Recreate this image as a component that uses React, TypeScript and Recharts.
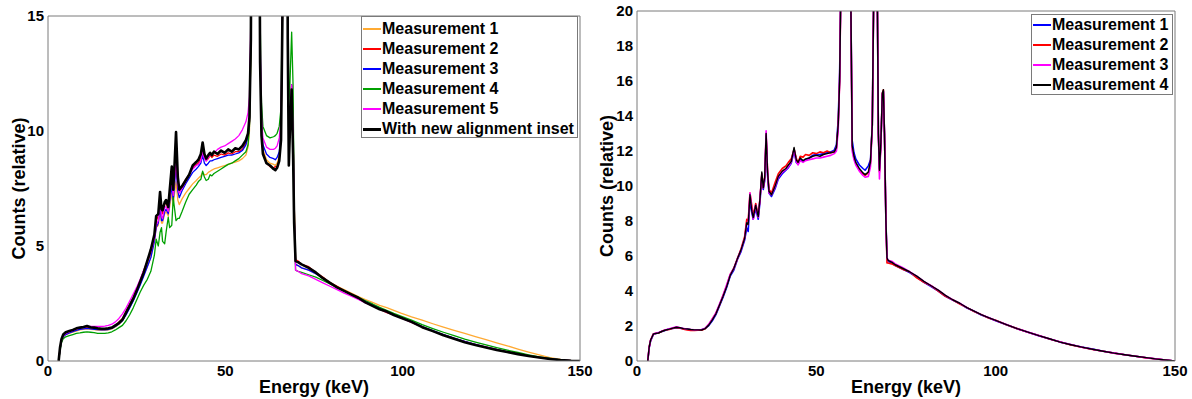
import { LineChart, Line, XAxis, YAxis, Label } from 'recharts'

const FONT = '"Liberation Sans", Arial, Helvetica, sans-serif'
const FRAME = '#7a7a7a'

const energyTicks = [0, 50, 100, 150]
const leftCountTicks = [0, 5, 10, 15]
const rightCountTicks = [0, 2, 4, 6, 8, 10, 12, 14, 16, 18, 20]

// ---- left panel: five measurements + the new alignment inset (keV) ----
const leftEnergy = [
  3, 3.4, 3.8, 4.3, 5, 6, 7, 8, 9, 10, 11, 12, 13, 14, 15, 16, 17, 18, 19,
  20, 21, 22, 23, 24, 25, 26, 27, 28, 29, 30,
  30.5, 31.1, 31.6, 32.0, 32.3, 32.9, 33.3, 33.9, 34.3, 34.9, 35.3, 35.7, 36.1, 36.6, 37.0,
  37.8, 38.8, 39.8, 40.8, 41.8, 42.4, 43.1, 43.6, 44.1, 44.6, 45.2, 45.7, 46.2, 46.8, 47.8, 48.8, 49.8, 50.8, 51.8, 52.8, 53.8, 54.8, 55.8, 56.4,
  56.8, 57.2, 57.6, 58.5, 59.3, 59.8, 60.2, 60.6, 61.6, 62.6, 63.6, 64.1, 64.6, 65.2, 65.7, 66.1, 66.6, 67.2, 67.6, 67.9, 68.2, 68.7, 69.1, 69.4, 69.8,
  70.5, 71.5, 73.5, 75.5, 77.5, 79.5, 81.5, 83.5, 85.5, 87.5, 89.5, 91.5, 93.5, 95.5, 97.5, 99.5, 102.5, 105.5, 108.5, 111.5, 114.5, 117.5, 120.5, 123.5, 126.5, 129.5, 132.5, 135.5, 138.5, 141.5, 144.5, 147.5, 150,
]

const leftMeas1 = [
  0, 0.5, 0.85, 1.05, 1.15, 1.2, 1.25, 1.3, 1.35, 1.38, 1.4, 1.38, 1.36, 1.34, 1.33, 1.33, 1.35, 1.4, 1.48,
  1.6, 1.75, 2.05, 2.35, 2.65, 3.0, 3.35, 3.75, 4.1, 4.5, 5.2,
  5.8, 5.9, 6.6, 6.0, 6.0, 6.4, 6.5, 6.3, 6.7, 7.3, 6.8, 7.3, 7.8, 7.0, 6.8,
  7.05, 7.3, 7.5, 7.7, 7.85, 7.95, 8.05, 8.2, 8.1, 8.1, 8.2, 8.25, 8.3, 8.35, 8.4, 8.45, 8.5, 8.55, 8.6, 8.65, 8.7, 8.8, 8.95, 9.3,
  10, 13.5, 30, 30, 30, 13.5, 10, 9.2, 8.75, 8.6, 8.55, 8.5, 8.6, 8.9, 9.8, 15, 30, 30, 15, 9.8, 10.5, 12, 10, 6.5, 4.2,
  4.15, 4.05, 3.95, 3.8, 3.6, 3.42, 3.25, 3.1, 2.95, 2.8, 2.67, 2.55, 2.42, 2.32, 2.2, 2.08, 1.92, 1.78, 1.62, 1.47, 1.33, 1.2, 1.06, 0.93, 0.79, 0.66, 0.52, 0.39, 0.27, 0.15, 0.07, 0.02, 0,
]

const leftMeas2 = [
  0, 0.55, 0.9, 1.1, 1.2, 1.28, 1.33, 1.38, 1.42, 1.45, 1.47, 1.44, 1.42, 1.4, 1.38, 1.38, 1.4, 1.45, 1.55,
  1.7, 1.85, 2.15, 2.45, 2.75, 3.1, 3.5, 3.95, 4.3, 4.7, 5.4,
  6.1, 6.3, 7.2, 6.5, 6.4, 6.8, 6.9, 6.6, 7.2, 8.2, 7.3, 8.4, 9.7, 7.8, 7.4,
  7.6, 7.9, 8.1, 8.4, 8.55, 8.6, 8.85, 9.3, 8.9, 8.7, 8.8, 8.95, 8.85, 8.95, 8.9, 9.0, 8.95, 9.05, 9.0, 9.1, 9.1, 9.2, 9.45, 9.8,
  10.4, 14, 30, 30, 30, 13.5, 10, 9.1, 8.6, 8.45, 8.4, 8.45, 8.45, 8.75, 9.7, 15, 30, 30, 15, 9.5, 10.5, 12, 10, 7, 4.4,
  4.35, 4.2, 4.1, 3.85, 3.65, 3.4, 3.25, 3.05, 2.9, 2.7, 2.55, 2.45, 2.25, 2.1, 2.0, 1.9, 1.68, 1.5, 1.3, 1.14, 0.98, 0.84, 0.71, 0.6, 0.5, 0.4, 0.31, 0.23, 0.16, 0.1, 0.05, 0.01, 0,
]

const leftMeas3 = [
  0, 0.5, 0.85, 1.05, 1.15, 1.22, 1.28, 1.33, 1.38, 1.4, 1.42, 1.4, 1.38, 1.36, 1.35, 1.35, 1.37, 1.42, 1.5,
  1.62, 1.75, 2.0, 2.3, 2.6, 2.95, 3.3, 3.7, 4.1, 4.5, 5.2,
  5.8, 6.0, 6.7, 6.1, 6.1, 6.5, 6.6, 6.4, 6.9, 7.6, 7.0, 7.7, 8.5, 7.4, 7.1,
  7.4, 7.7, 7.95, 8.2, 8.35, 8.45, 8.6, 8.95, 8.6, 8.5, 8.6, 8.7, 8.7, 8.75, 8.8, 8.85, 8.9, 8.95, 8.95, 9.0, 9.05, 9.15, 9.4, 9.8,
  10.4, 14, 30, 30, 30, 14, 10.4, 9.4, 9.0, 8.85, 8.8, 8.75, 8.85, 9.1, 10, 15, 30, 30, 15, 9.8, 10.5, 12, 10, 6.5, 4.2,
  4.15, 4.05, 3.95, 3.8, 3.6, 3.4, 3.2, 3.05, 2.9, 2.75, 2.6, 2.45, 2.3, 2.15, 2.0, 1.9, 1.72, 1.5, 1.32, 1.15, 0.99, 0.85, 0.72, 0.6, 0.5, 0.4, 0.31, 0.23, 0.16, 0.1, 0.05, 0.01, 0,
]

const leftMeas4 = [
  0, 0.45, 0.8, 0.97, 1.05, 1.1, 1.15, 1.2, 1.22, 1.25, 1.27, 1.25, 1.23, 1.2, 1.2, 1.2, 1.22, 1.27, 1.35,
  1.45, 1.55, 1.75, 2.0, 2.3, 2.65, 3.0, 3.3, 3.55, 3.9, 4.6,
  5.3, 5.0, 5.6, 5.8, 5.2, 5.1, 5.6, 6.25, 5.8, 5.9, 7.1, 6.6, 6.1, 6.2, 6.2,
  6.5, 6.9, 7.25, 7.45, 7.65, 7.8, 7.9, 8.25, 8.0, 7.85, 7.9, 8.1, 8.05, 8.15, 8.25, 8.35, 8.45, 8.55, 8.6, 8.7, 8.8, 8.95, 9.1, 9.4,
  10.2, 13.5, 30, 30, 30, 15, 11.2, 10.2, 9.8, 9.7, 9.75, 9.8, 9.9, 10.2, 11, 16, 30, 30, 18, 11, 12, 14.3, 12, 7, 3.95,
  3.9, 3.85, 3.75, 3.65, 3.5, 3.35, 3.2, 3.05, 2.9, 2.77, 2.62, 2.48, 2.33, 2.2, 2.07, 1.95, 1.78, 1.58, 1.41, 1.25, 1.1, 0.95, 0.82, 0.7, 0.58, 0.47, 0.37, 0.27, 0.18, 0.11, 0.05, 0.01, 0,
]

const leftMeas5 = [
  0, 0.55, 0.9, 1.1, 1.2, 1.27, 1.33, 1.4, 1.44, 1.47, 1.5, 1.5, 1.5, 1.5, 1.5, 1.52, 1.55, 1.6, 1.7,
  1.85, 2.05, 2.3, 2.6, 2.9, 3.2, 3.55, 3.95, 4.35, 4.75, 5.3,
  5.9, 6.1, 6.9, 6.3, 6.2, 6.7, 6.7, 6.5, 7.1, 7.9, 7.2, 7.9, 8.6, 7.6, 7.3,
  7.5, 7.8, 8.1, 8.35, 8.5, 8.55, 8.7, 9.1, 8.8, 8.7, 8.85, 8.95, 8.95, 9.05, 9.2, 9.3, 9.35, 9.45, 9.55, 9.65, 9.8, 10.05, 10.4, 10.8,
  11.5, 15, 30, 30, 30, 14.5, 10.6, 9.7, 9.3, 9.2, 9.2, 9.25, 9.35, 9.7, 10.5, 15.5, 30, 30, 15, 9.8, 10.5, 12, 10, 6.5, 3.95,
  3.9, 3.8, 3.7, 3.55, 3.4, 3.25, 3.1, 2.95, 2.82, 2.68, 2.53, 2.4, 2.25, 2.12, 2.0, 1.87, 1.68, 1.47, 1.3, 1.12, 0.97, 0.83, 0.71, 0.6, 0.49, 0.39, 0.3, 0.22, 0.15, 0.09, 0.04, 0.01, 0,
]

const leftInset = [
  0, 0.6, 0.95, 1.15, 1.25, 1.3, 1.35, 1.42, 1.45, 1.48, 1.52, 1.47, 1.45, 1.42, 1.4, 1.4, 1.42, 1.45, 1.55,
  1.65, 1.8, 2.1, 2.4, 2.7, 3.05, 3.45, 3.85, 4.35, 4.85, 5.5,
  6.3, 6.4, 7.35, 6.6, 6.55, 6.9, 7.0, 6.7, 7.4, 8.45, 7.45, 8.6, 9.95, 8.0, 7.45,
  7.6, 7.85, 8.1, 8.5, 8.65, 8.75, 9.0, 9.5, 9.0, 8.8, 8.95, 9.05, 8.95, 9.1, 9.0, 9.15, 9.05, 9.2, 9.1, 9.25, 9.2, 9.35, 9.6, 9.9,
  10.6, 14, 30, 30, 30, 13, 9.8, 9.0, 8.6, 8.5, 8.35, 8.3, 8.4, 8.7, 9.6, 15, 30, 30, 14, 8.5, 10, 11.8, 9, 6, 4.35,
  4.3, 4.2, 4.05, 3.85, 3.6, 3.4, 3.2, 3.05, 2.9, 2.75, 2.55, 2.4, 2.25, 2.15, 2.0, 1.88, 1.7, 1.47, 1.3, 1.12, 0.97, 0.82, 0.7, 0.59, 0.48, 0.39, 0.3, 0.22, 0.15, 0.09, 0.04, 0.01, 0,
]

// ---- right panel: four repeated measurements ----
const rightEnergy = [
  3, 3.4, 3.8, 4.6, 6, 7, 8, 9, 10, 11, 12, 13, 14, 15, 16, 17, 18, 19, 20,
  21, 22, 23, 24, 25, 26, 27, 28, 29, 30, 30.6,
  31.0, 31.5, 32.0, 32.4, 33.1, 33.8, 34.3, 34.8, 35.2, 35.6, 36.0, 36.4, 36.8, 37.5,
  38.5, 39.4, 40.5, 41.5, 42.2, 43.0, 43.8, 44.4, 44.9, 45.5, 46.3, 47, 48, 49, 50, 51, 52, 53, 54, 55, 55.6,
  56.1, 56.5, 57, 58, 59, 59.6, 60.0, 60.5, 61, 62, 63, 63.6, 64.5, 65.1, 65.6, 66.0, 66.5, 67.0, 67.3, 67.6, 68.0, 68.4, 68.7, 69.0, 69.4, 69.7, 70.0,
  71, 72, 74, 76, 78, 80, 82, 84, 86, 88, 90, 92, 94, 96, 98, 100, 103, 106, 109, 112, 115, 118, 121, 124, 127, 130, 133, 136, 139, 142, 145, 148, 150,
]

const rightMeas1 = [
  0, 0.75, 1.15, 1.53, 1.62, 1.68, 1.76, 1.83, 1.86, 1.9, 1.88, 1.84, 1.82, 1.79, 1.77, 1.76, 1.78, 1.86, 2.02,
  2.3, 2.65, 3.15, 3.65, 4.2, 4.85, 5.2, 5.8, 6.25, 6.9, 7.6,
  7.4, 9.2, 8.5, 8.1, 8.7, 8.1, 9.1, 10.6, 9.8, 10.3, 12.7, 10.6, 9.6, 9.4,
  9.85, 10.4, 10.7, 10.9, 11.05, 11.3, 12.0, 11.35, 11.25, 11.5, 11.4, 11.5, 11.6, 11.75, 11.8, 11.8, 11.85, 11.9, 11.95, 12.05, 12.35,
  13.8, 16.5, 24, 40, 40, 21, 12.6, 11.9, 11.55, 11.2, 11.0, 10.9, 11.15, 11.5, 13.5, 21, 40, 21, 13, 11.0, 12.4, 15.2, 15.4, 13, 8, 5.9, 5.7,
  5.6, 5.45, 5.25, 5.05, 4.8, 4.5, 4.25, 4.0, 3.7, 3.48, 3.28, 3.03, 2.84, 2.63, 2.47, 2.3, 2.07, 1.84, 1.64, 1.45, 1.26, 1.08, 0.93, 0.8, 0.68, 0.56, 0.46, 0.36, 0.27, 0.19, 0.11, 0.04, 0,
]

const rightMeas2 = [
  0, 0.8, 1.2, 1.56, 1.6, 1.7, 1.78, 1.8, 1.87, 1.92, 1.88, 1.82, 1.78, 1.75, 1.74, 1.76, 1.76, 1.84, 2.08,
  2.4, 2.72, 3.2, 3.75, 4.3, 4.95, 5.3, 5.85, 6.4, 7.1, 8.1,
  8.0, 9.6, 8.9, 8.3, 9.0, 8.3, 9.3, 10.7, 9.9, 10.5, 12.9, 10.9, 9.8, 9.6,
  10.2, 10.7, 11.0, 11.15, 11.35, 11.55, 12.1, 11.6, 11.3, 11.7, 11.65, 11.8, 11.75, 11.9, 11.85, 11.95, 11.9, 12.0, 11.9, 11.95, 12.15,
  13.5, 16, 24, 40, 40, 21, 12.2, 11.6, 11.3, 10.9, 10.7, 10.6, 10.75, 11.3, 13.5, 21, 40, 21, 13, 10.8, 12.4, 15.3, 15.5, 13, 8, 5.6, 5.6,
  5.55, 5.45, 5.25, 5.1, 4.75, 4.5, 4.3, 4.0, 3.7, 3.5, 3.25, 3.05, 2.83, 2.65, 2.46, 2.33, 2.07, 1.85, 1.64, 1.46, 1.26, 1.08, 0.92, 0.79, 0.66, 0.56, 0.45, 0.36, 0.27, 0.18, 0.11, 0.04, 0,
]

const rightMeas3 = [
  0, 0.8, 1.2, 1.55, 1.62, 1.72, 1.78, 1.84, 1.9, 1.95, 1.9, 1.86, 1.82, 1.8, 1.78, 1.79, 1.8, 1.87, 2.1,
  2.4, 2.75, 3.25, 3.75, 4.35, 4.95, 5.3, 5.85, 6.35, 7.0, 7.9,
  7.8, 9.6, 8.7, 8.1, 8.9, 8.2, 9.3, 10.7, 9.9, 10.4, 13.15, 10.8, 9.6, 9.5,
  9.95, 10.5, 10.8, 10.95, 11.1, 11.35, 12.1, 11.4, 11.2, 11.45, 11.35, 11.45, 11.5, 11.55, 11.6, 11.6, 11.65, 11.7, 11.75, 11.85, 12.0,
  13.2, 16, 24, 40, 40, 21, 12.0, 11.5, 11.2, 10.85, 10.6, 10.5, 10.55, 11.1, 13.5, 21, 40, 21, 13, 10.4, 12.4, 15.3, 15.4, 13, 8, 5.9, 5.75,
  5.7, 5.55, 5.35, 5.1, 4.85, 4.55, 4.3, 4.05, 3.75, 3.5, 3.3, 3.05, 2.85, 2.65, 2.48, 2.32, 2.08, 1.85, 1.65, 1.45, 1.27, 1.09, 0.94, 0.79, 0.67, 0.56, 0.45, 0.36, 0.27, 0.19, 0.11, 0.04, 0,
]

const rightMeas4 = [
  0, 0.8, 1.2, 1.55, 1.6, 1.7, 1.77, 1.82, 1.88, 1.93, 1.9, 1.85, 1.83, 1.8, 1.78, 1.78, 1.77, 1.85, 2.05,
  2.35, 2.7, 3.2, 3.7, 4.25, 4.9, 5.3, 5.85, 6.35, 7.0, 7.9,
  7.8, 9.5, 8.6, 8.2, 8.9, 8.25, 9.3, 10.8, 9.9, 10.5, 13.0, 10.8, 9.7, 9.5,
  10.0, 10.55, 10.85, 11.0, 11.2, 11.4, 12.2, 11.5, 11.35, 11.6, 11.45, 11.55, 11.6, 11.7, 11.75, 11.7, 11.8, 11.85, 11.9, 11.95, 12.2,
  13.5, 16, 24, 40, 40, 21, 12.3, 11.7, 11.35, 11.0, 10.75, 10.65, 10.8, 11.4, 13.5, 21, 40, 21, 13, 10.9, 12.5, 15.3, 15.5, 13, 8, 5.9, 5.75,
  5.65, 5.5, 5.3, 5.1, 4.85, 4.55, 4.3, 4.05, 3.75, 3.5, 3.3, 3.05, 2.85, 2.65, 2.48, 2.32, 2.08, 1.85, 1.65, 1.45, 1.27, 1.08, 0.93, 0.79, 0.67, 0.56, 0.45, 0.36, 0.27, 0.19, 0.11, 0.04, 0,
]

interface Series {
  key: string
  name: string
  color: string
  width: number
  legendWidth: number
  values: number[]
}

const leftSeries: Series[] = [
  { key: 'm1', name: 'Measurement 1', color: '#ffaa33', width: 1.3, legendWidth: 2, values: leftMeas1 },
  { key: 'm2', name: 'Measurement 2', color: '#ff0000', width: 1.3, legendWidth: 2, values: leftMeas2 },
  { key: 'm3', name: 'Measurement 3', color: '#0000ff', width: 1.3, legendWidth: 2, values: leftMeas3 },
  { key: 'm4', name: 'Measurement 4', color: '#00a000', width: 1.3, legendWidth: 2, values: leftMeas4 },
  { key: 'm5', name: 'Measurement 5', color: '#ff00ff', width: 1.3, legendWidth: 2, values: leftMeas5 },
  { key: 'inset', name: 'With new alignment inset', color: '#000000', width: 2.6, legendWidth: 3, values: leftInset },
]

const rightSeries: Series[] = [
  { key: 'm1', name: 'Measurement 1', color: '#0000ff', width: 1.6, legendWidth: 2, values: rightMeas1 },
  { key: 'm2', name: 'Measurement 2', color: '#ff0000', width: 1.6, legendWidth: 2, values: rightMeas2 },
  { key: 'm3', name: 'Measurement 3', color: '#ff00ff', width: 1.6, legendWidth: 2, values: rightMeas3 },
  { key: 'm4', name: 'Measurement 4', color: '#000000', width: 1.4, legendWidth: 2, values: rightMeas4 },
]

function buildRows(energy: number[], series: Series[]) {
  return energy.map((e, i) => {
    const row: Record<string, number> = { e }
    series.forEach(s => { row[s.key] = s.values[i] })
    return row
  })
}

const tickFont = { fill: '#000', fontSize: 15, fontWeight: 'bold', fontFamily: FONT }
const titleStyle = { fill: '#000', fontSize: 18, fontWeight: 'bold', fontFamily: FONT, textAnchor: 'middle' as const }

interface PanelProps {
  energy: number[]
  series: Series[]
  yMax: number
  yTicks: number[]
  margin: { top: number; right: number; bottom: number; left: number }
  yAxisWidth: number
  yTitleOffset: number
}

function SpectrumPanel({ energy, series, yMax, yTicks, margin, yAxisWidth, yTitleOffset }: PanelProps) {
  const rows = buildRows(energy, series)
  const xDomain: [number, number] = [0, 150]
  const yDomain: [number, number] = [0, yMax]
  return (
    <LineChart width={596} height={399} data={rows} margin={margin}>
      {/* box frame: labelled bottom/left axes plus tick-only mirrored copies */}
      <XAxis xAxisId="x" dataKey="e" type="number" domain={xDomain} ticks={energyTicks} allowDataOverflow
        height={30} tickSize={0} tickMargin={4} tickLine={false} axisLine={{ stroke: FRAME }} tick={tickFont}>
        <Label value="Energy (keV)" position="insideBottom" offset={-2} style={titleStyle} />
      </XAxis>
      <XAxis xAxisId="xb" type="number" domain={xDomain} ticks={energyTicks} allowDataOverflow mirror
        height={1} tick={false} tickSize={5} tickLine={{ stroke: FRAME }} axisLine={false} />
      <XAxis xAxisId="xt" orientation="top" type="number" domain={xDomain} ticks={energyTicks} allowDataOverflow mirror
        height={1} tick={false} tickSize={5} tickLine={{ stroke: FRAME }} axisLine={{ stroke: FRAME }} />
      <YAxis yAxisId="y" type="number" domain={yDomain} ticks={yTicks} allowDataOverflow width={yAxisWidth}
        tickSize={0} tickMargin={4} tickLine={false} axisLine={{ stroke: FRAME }} tick={tickFont}>
        <Label value="Counts (relative)" angle={-90} position="insideLeft" offset={yTitleOffset} style={titleStyle} />
      </YAxis>
      <YAxis yAxisId="yl" type="number" domain={yDomain} ticks={yTicks} allowDataOverflow mirror width={1}
        tick={false} tickSize={5} tickLine={{ stroke: FRAME }} axisLine={false} />
      <YAxis yAxisId="yr" orientation="right" type="number" domain={yDomain} ticks={yTicks} allowDataOverflow mirror width={1}
        tick={false} tickSize={5} tickLine={{ stroke: FRAME }} axisLine={{ stroke: FRAME }} />
      {series.map(s => (
        <Line key={s.key} xAxisId="x" yAxisId="y" type="linear" dataKey={s.key} name={s.name}
          stroke={s.color} strokeWidth={s.width} strokeLinejoin="round" dot={false} activeDot={false}
          isAnimationActive={false} />
      ))}
    </LineChart>
  )
}

function LegendBox({ series, left, top, width, height, rowHeight, padTop }: {
  series: Series[]; left: number; top: number; width: number; height: number; rowHeight: number; padTop: number
}) {
  return (
    <div style={{
      position: 'absolute', left, top, width, height, boxSizing: 'border-box',
      border: `1px solid ${FRAME}`, background: '#fff', paddingTop: padTop,
    }}>
      {series.map(s => (
        <div key={s.key} style={{ height: rowHeight, display: 'flex', alignItems: 'center' }}>
          <div style={{ width: 18, height: s.legendWidth, background: s.color, marginLeft: 1, marginRight: 1, flex: 'none' }} />
          <span style={{ font: `bold 16px ${FONT}`, color: '#000', whiteSpace: 'nowrap', lineHeight: `${rowHeight}px` }}>
            {s.name}
          </span>
        </div>
      ))}
    </div>
  )
}

export default function App() {
  return (
    <div style={{ position: 'absolute', left: 0, top: 0, width: 1192, height: 399, background: '#fff', overflow: 'hidden' }}>
      <div style={{ position: 'absolute', left: 0, top: 0 }}>
        <SpectrumPanel energy={leftEnergy} series={leftSeries} yMax={15} yTicks={leftCountTicks}
          margin={{ top: 16, right: 16, bottom: 8, left: 4 }} yAxisWidth={44} yTitleOffset={15} />
      </div>
      <LegendBox series={leftSeries} left={361} top={16} width={217} height={122} rowHeight={20} padTop={2} />
      <div style={{ position: 'absolute', left: 596, top: 0 }}>
        <SpectrumPanel energy={rightEnergy} series={rightSeries} yMax={20} yTicks={rightCountTicks}
          margin={{ top: 11, right: 17, bottom: 8, left: 5 }} yAxisWidth={36} yTitleOffset={6} />
      </div>
      <LegendBox series={rightSeries} left={1031} top={14} width={142} height={81} rowHeight={20} padTop={0} />
    </div>
  )
}
